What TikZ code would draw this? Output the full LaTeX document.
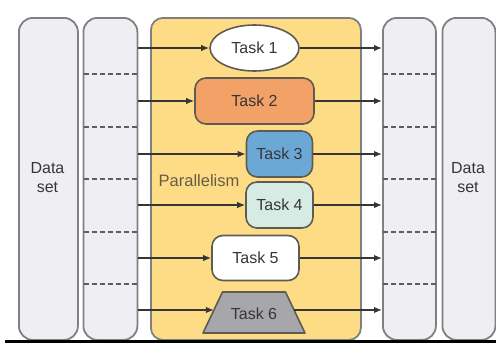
\documentclass[tikz,border=0pt]{standalone}
\usepackage{fontspec}
\setmainfont{Liberation Sans}
\usetikzlibrary{calc,arrows.meta,shapes.geometric}
\definecolor{boxfill}{HTML}{EFEFF3}
\definecolor{boxline}{HTML}{808080}
\definecolor{yell}{HTML}{FEDC86}
\definecolor{orng}{HTML}{F2A167}
\definecolor{blu}{HTML}{6CA8D6}
\definecolor{mint}{HTML}{D7EBE5}
\definecolor{trap}{HTML}{A7A7AB}
\definecolor{tline}{HTML}{5E5C52}
\definecolor{txt}{HTML}{363636}
\definecolor{para}{HTML}{655C44}
\tikzset{
  column/.style={draw=boxline, line width=1.8pt, fill=boxfill, rounded corners=14pt, inner sep=0pt, anchor=north west, minimum height=322pt},
  taskbox/.style={draw=tline, line width=1.6pt, rounded corners=11pt, inner sep=0pt, minimum height=45pt, text=txt, font=\fontsize{16}{18}\selectfont},
  arr/.style={draw=txt, line width=1.4pt, -{Latex[length=8pt,width=6.5pt]}},
  dash line/.style={draw=txt!80, line width=1.3pt, dash pattern=on 5pt off 3pt},
  lbl/.style={text=txt, font=\fontsize{16}{19}\selectfont, align=center}
}
\begin{document}
\begin{tikzpicture}[x=1pt,y=-1pt]
\useasboundingbox (0,0) rectangle (496,343);
% columns
\node[column, minimum width=59pt] (lb1) at (18,17) {};
\node[column, minimum width=54pt] (lb2) at (82.5,17) {};
\node[column, minimum width=210pt, fill=yell, rounded corners=12pt] (par) at (150,17) {};
\node[column, minimum width=53pt] (rb1) at (382,17) {};
\node[column, minimum width=53pt] (rb2) at (441.5,17) {};
% labels
\node[lbl] (dl) at (47.5,178) {Data\\set};
\node[lbl] (dr) at (468,178) {Data\\set};
\node[text=para, font=\fontsize{16.5}{18}\selectfont] (plab) at (199,181) {Parallelism};
% tasks
\node[taskbox, ellipse, fill=white, minimum width=89pt, minimum height=46pt] (t1) at (254.5,48) {Task 1};
\node[taskbox, fill=orng, minimum width=119pt, minimum height=46pt] (t2) at (254.5,101) {Task 2};
\node[taskbox, fill=blu, minimum width=66pt, minimum height=46pt] (t3) at (279.5,154) {Task 3};
\node[taskbox, fill=mint, minimum width=67pt, minimum height=46pt] (t4) at (279.5,205) {Task 4};
\node[taskbox, fill=white, minimum width=87pt] (t5) at (255.5,258) {Task 5};
% task 6 trapezoid
\coordinate (t6bl) at (203,333);
\coordinate (t6tl) at (222.5,292);
\coordinate (t6tr) at (285.5,292);
\coordinate (t6br) at (305,333);
\draw[draw=tline, line width=1.6pt, fill=trap, line join=round] (t6bl) -- (t6tl) -- (t6tr) -- (t6br) -- cycle;
\node[text=txt, font=\fontsize{16}{18}\selectfont] (t6) at (254,313.5) {Task 6};
\coordinate (t6in) at ($(t6bl)!0.561!(t6tl)$);
\coordinate (t6out) at ($(t6br)!0.561!(t6tr)$);
% dashed separators
\foreach \y in {74,127,179,232,284}{
  \draw[dash line] ([xshift=1pt]lb2.west |- 0,\y) -- ([xshift=-1pt]lb2.east |- 0,\y);
  \draw[dash line] ([xshift=1pt]rb1.west |- 0,\y) -- ([xshift=-1pt]rb1.east |- 0,\y);
}
% arrows
\foreach \t in {t1,t2,t3,t4,t5}{
  \draw[arr] (lb2.east |- \t) -- (\t);
  \draw[arr] (\t) -- (rb1.west |- \t);
}
\draw[arr] (lb2.east |- t6in) -- (t6in);
\draw[arr] (t6out) -- (rb1.west |- t6out);
% bottom rule
\draw[black, line width=2.5pt] (5,341.5) -- (496,341.5);
\end{tikzpicture}
\end{document}
